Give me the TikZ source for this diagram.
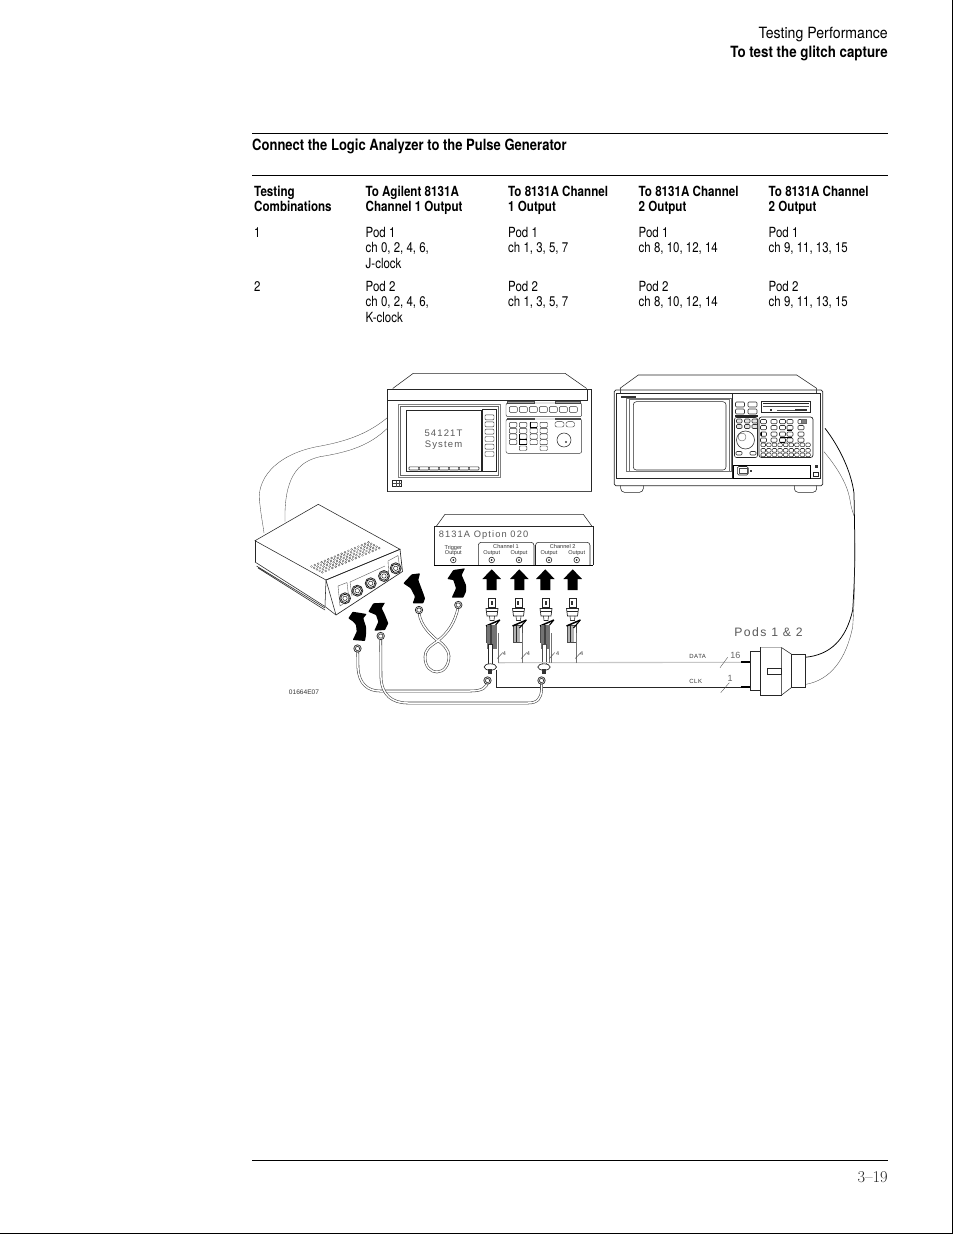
\documentclass[tikz,border=0pt]{standalone}
\usepackage{fontspec}
\newfontfamily\cond[FakeStretch=0.82]{TeX Gyre Heros}
\newfontfamily\condb[FakeStretch=0.83]{TeX Gyre Heros Bold}
\newfontfamily\titlef[FakeStretch=0.84]{TeX Gyre Heros Bold}
\newfontfamily\headb[FakeStretch=0.86]{TeX Gyre Heros Bold}
\newfontfamily\headr[FakeStretch=0.91]{TeX Gyre Heros}
\newfontfamily\lab{Liberation Sans}
\begin{document}
\begin{tikzpicture}[x=1pt,y=-1pt,
  txt/.style={inner sep=0pt,anchor=base west,font=\cond\fontsize{14}{14}\selectfont},
  hd/.style={txt,font=\condb\fontsize{14}{14}\selectfont},
  pen/.style={line width=.55pt,black!85},
  thin pen/.style={line width=.35pt,black!70},
  key/.style={line width=.45pt,black!80,rounded corners=1pt},
  rule/.style={line width=.75pt,black},
  panel/.style={txt,font=\lab\fontsize{5.6}{6}\selectfont,text=black!80,anchor=center},
  big/.style={inner sep=0pt,anchor=center,text=black!65,font=\lab\addfontfeature{LetterSpace=12}\fontsize{10.5}{11}\selectfont},
  small/.style={inner sep=0pt,anchor=center,text=black!80,font=\lab\fontsize{5.5}{6}\selectfont},
  cable/.style={line width=.55pt,black!75,double=white,double distance=1.5pt},
  sig/.style={line width=.7pt,black!85},
  siglight/.style={line width=1.1pt,black!22},
  curved/.style={fill=black,rounded corners=.7pt},
]
\useasboundingbox (0,0) rectangle (954,1235);
\fill[white] (0,0) rectangle (954,1235);
\draw[line width=.9pt,black] (952.8,0) -- (952.8,1233.3) -- (0,1233.3);

% --- page header
\node[txt,anchor=base east,font=\headr\fontsize{15.5}{15}\selectfont] (h1) at (888,38) {Testing Performance};
\node[hd,anchor=base east,font=\headb\fontsize{15.5}{15}\selectfont] (h2) at (888,57) {To test the glitch capture};
\node[hd,font=\titlef\fontsize{15.5}{15}\selectfont] (title) at (252,150) {Connect the Logic Analyzer to the Pulse Generator};
\draw[rule] (252,133.5) -- (888,133.5);
\draw[rule] (252,175) -- (888,175);
\draw[rule] (252,1160) -- (888,1160);
\node[inner sep=0pt,anchor=base east,font=\fontsize{16.5}{16}\selectfont,text=black!85] (pg) at (888,1182) {3--19};

% --- table
\node[hd] (a1) at (254,196) {Testing};
\node[hd] (a2) at (254,211) {Combinations};
\node[hd] (b1) at (365.5,196) {To Agilent 8131A};
\node[hd] (b2) at (365.5,211) {Channel 1 Output};
\node[hd] (c1) at (508,196) {To 8131A Channel};
\node[hd] (c2) at (508,211) {1 Output};
\node[hd] (d1) at (638.5,196) {To 8131A Channel};
\node[hd] (d2) at (638.5,211) {2 Output};
\node[hd] (e1) at (768.5,196) {To 8131A Channel};
\node[hd] (e2) at (768.5,211) {2 Output};

\node[txt] (r1a) at (254,237) {1};
\node[txt] (r1b1) at (365.5,237) {Pod 1};
\node[txt] (r1b2) at (365.5,252) {ch 0, 2, 4, 6,};
\node[txt] (r1b3) at (365.5,268) {J-clock};
\node[txt] (r1c1) at (508,237) {Pod 1};
\node[txt] (r1c2) at (508,252) {ch 1, 3, 5, 7};
\node[txt] (r1d1) at (638.5,237) {Pod 1};
\node[txt] (r1d2) at (638.5,252) {ch 8, 10, 12, 14};
\node[txt] (r1e1) at (768.5,237) {Pod 1};
\node[txt] (r1e2) at (768.5,252) {ch 9, 11, 13, 15};

\node[txt] (r2a) at (254,291) {2};
\node[txt] (r2b1) at (365.5,291) {Pod 2};
\node[txt] (r2b2) at (365.5,306) {ch 0, 2, 4, 6,};
\node[txt] (r2b3) at (365.5,322) {K-clock};
\node[txt] (r2c1) at (508,291) {Pod 2};
\node[txt] (r2c2) at (508,306) {ch 1, 3, 5, 7};
\node[txt] (r2d1) at (638.5,291) {Pod 2};
\node[txt] (r2d2) at (638.5,306) {ch 8, 10, 12, 14};
\node[txt] (r2e1) at (768.5,291) {Pod 2};
\node[txt] (r2e2) at (768.5,306) {ch 9, 11, 13, 15};

% --- 54121T instrument
\draw[pen] (392.7,388.5) -- (413.3,373.3) -- (565,373.3) -- (586.7,388.5);
\draw[pen,line width=.8pt] (387.5,389.5) rectangle (591.7,491.5);
\draw[line width=1pt,black!70] (387.5,491.7) -- (591.7,491.7);
\draw[pen] (387.5,400) -- (587.3,400) -- (587.3,389.5);
\draw[pen,black!50] (398.3,404.3) rectangle (500.7,477.3);
\draw[pen,black!60] (400,406.3) rectangle (498.5,475.5);
\draw[pen,line width=.8pt] (406,410.7) rectangle (481.7,471);
\draw[pen] (482.7,409) rectangle (496,471);
\foreach \y in {417.3,424.3,431.7,439,446.7,454} \draw[key] (485,\y-2.5) rectangle (494,\y+2.5);
\foreach \x in {409,419,429,439,449,459,469} \draw[key,rounded corners=.8pt,line width=.6pt] (\x,466.8) rectangle (\x+10,470);
\node[big,font=\lab\addfontfeature{LetterSpace=12}\fontsize{9.5}{10}\selectfont] (sc1) at (443.5,433.5) {54121T};
\node[big,font=\lab\addfontfeature{LetterSpace=12}\fontsize{9.5}{10}\selectfont] (sc2) at (443.5,445.5) {System};
\draw[pen] (392.7,480.7) rectangle (401.7,486.7);
\draw[thin pen] (395.7,480.7) -- (395.7,486.7) (398.7,480.7) -- (398.7,486.7) (392.7,483.2) -- (401.7,483.2);
\draw[thin pen,fill=black!30] (507.5,401.5) rectangle (534,403);
\draw[thin pen,fill=black!30] (555,401.5) rectangle (580,403);
\draw[key,rounded corners=2pt] (506,403) rectangle (581.7,416.7);
\foreach \i in {0,...,6} \draw[key] (509.3+10*\i,406.7) rectangle (517.3+10*\i,412.3);
\draw[thin pen,fill=black!30] (507.5,418) rectangle (534,419);
\draw[thin pen,fill=black!30] (555,418) rectangle (580,419);
\draw[key,rounded corners=2pt] (506,419) rectangle (581.7,453.3);
\foreach \x in {509.3,519.3,530,540} \foreach \y in {422.3,428.3,434,439.7} \draw[key] (\x,\y) rectangle (\x+7.5,\y+5);
\draw[key] (519.3,446) rectangle (526.8,450.5) (540,446) rectangle (547.5,450.5);
\draw[line width=.9pt,black] (530,422.3) -- (530,427.3) -- (537,427.3);
\draw[line width=.9pt,black] (519.3,434) -- (519.3,439) -- (527,439);
\draw[line width=.9pt,black] (519.3,439.7) -- (519.3,444.7) -- (527,444.7);
\draw[key,rounded corners=2pt] (555,421.7) rectangle (564,427);
\draw[key,rounded corners=2pt] (566,421.7) rectangle (574.5,427);
\draw[pen] (564,440) circle (7);
\fill[black!75] (566,442) circle (1.2);
% cable to divider box
\draw[thin pen] (387.3,417.7) .. controls (370,432) and (350,441) .. (316.7,446.7) .. controls (275,455) and (255,480) .. (260,505) .. controls (261,515) and (263,525) .. (264,533);
\draw[thin pen] (387.3,428.3) .. controls (370,445) and (350,452) .. (320,456.7) .. controls (296,462) and (284,480) .. (285,521.7);

% --- logic analyzer
\draw[pen] (620,388.3) -- (638.3,375) -- (796.7,375) -- (816.7,388.3);
\draw[pen,line width=.7pt,rounded corners=1.5pt] (614.3,390) rectangle (822.7,485.7);
\draw[pen] (616,393.3) -- (820,393.3) -- (820,478.3) -- (616,478.3) -- cycle;
\draw[thin pen] (816.5,388.3) -- (816.5,393.3) (620,388.3) -- (620,393.3);
\draw[pen,black!55] (626.7,398.3) rectangle (731.7,471.7);
\draw[pen,black!55] (629,399.5) rectangle (729,470.8);
\draw[pen,rounded corners=3pt] (633.3,401.7) rectangle (726,470);
\draw[pen,line width=.6pt] (732.7,393.3) -- (732.7,478.3);
\fill[black!80] (620.7,395.7) rectangle (636,398.3);
\draw[pen,rounded corners=1.5pt] (620.7,485.7) -- (620.7,490) -- (623,492.3) -- (641,492.3) -- (643.3,490) -- (643.3,485.7);
\draw[pen,rounded corners=1.5pt] (794.3,485.7) -- (794.3,490) -- (796.5,492.3) -- (814.5,492.3) -- (816.7,490) -- (816.7,485.7);
% floppy
\draw[pen] (761.5,401.5) rectangle (810,412);
\draw[line width=1pt,black!85] (763,403.5) -- (808.5,403.5);
\draw[thin pen] (763,406.5) -- (808.5,406.5);
\fill[black!80] (770,408.5) rectangle (772,410.5);
\draw[thin pen] (777,410.5) -- (795,410.5);
\fill[black!80] (795,408.7) rectangle (807,410.7);
% soft keys left
\foreach \x in {735.5,748} \foreach \y in {402,409} {\draw[key,line width=.55pt] (\x,\y) rectangle (\x+9,\y+5);}
\fill[black!85] (735,414.5) rectangle (758,417);
\draw[pen,rounded corners=2pt] (734.5,417.5) rectangle (757.5,457.5);
\foreach \x in {736.5,744.5,752} \foreach \y in {419,424.5} {\draw[key,line width=.6pt,fill=black!10] (\x,\y) rectangle (\x+5.5,\y+4);}
\draw[pen] (745.5,440) circle (9);
\draw[thin pen] (742,437) circle (4);
\draw[key,line width=.6pt] (736,451.5) rectangle (742,455);
\draw[key,line width=.6pt] (750,451.5) rectangle (756,455);
% main keypad
\draw[pen,rounded corners=2.5pt,line width=.7pt] (759,417) rectangle (813,457.5);
\foreach \x in {760.5,771,779.5,787,798} {\foreach \y in {419.5,425.5,432,438} {\draw[key,line width=.6pt] (\x,\y) rectangle (\x+6,\y+4.2);}}
\foreach \i in {0,...,8} \foreach \y in {443,448.5,453} {\draw[key,line width=.55pt] (761+5.6*\i,\y) rectangle (765.5+5.6*\i,\y+3.7);}
\draw[line width=1pt,black] (761,432) -- (761,436) (780,437) -- (792,437) (780,442) -- (785,442) (787,430) -- (792,430);
\draw[line width=1pt,black!60,fill=black!50] (801,419.5) rectangle (806,423);
% drive bay
\draw[line width=.8pt,black] (733.3,465) rectangle (810.7,478.3);
\draw[pen,rounded corners=1.5pt] (737.3,466.5) rectangle (748.3,475);
\draw[thin pen] (739,468) rectangle (746.7,473.5);
\fill[black!75] (749.5,470) rectangle (752,472);
\fill[black!80] (814.5,464.5) rectangle (817.5,467.5);
\draw[pen] (813.5,472) rectangle (818,476.5);
% analyzer cables
\draw[line width=.75pt,black] (825,428.3) .. controls (838,445) and (851,470) .. (854,493.3) -- (854.8,540) .. controls (855,570) and (854,590) .. (852.7,610) .. controls (846,640) and (830,655) .. (805,657.3);
\draw[thin pen] (824,451.7) .. controls (835,465) and (847,482) .. (850,500) .. controls (851.5,510) and (853,512) .. (854,516);
\draw[thin pen] (854.8,540) .. controls (855,570) and (854.5,600) .. (852.7,626.7) .. controls (846,660) and (830,680) .. (806,684.3);

% --- divider box
\draw[pen] (255,540.7) -- (318.3,504.3) -- (400,549.3) -- (326,580) -- cycle;
\draw[pen] (255,540.7) -- (255,562);
\draw[pen] (255,562) -- (325,606.5) ;
\draw[pen] (256.5,566) -- (325,608) (258,568) -- (325,610);
\draw[pen] (326,580) -- (336,615) (326,580) -- (325,606);
\draw[pen,line width=.65pt] (326,580) -- (400,549.3) -- (402.5,571.5) -- (336,615) ;
\draw[pen] (325,606.5) -- (336,615);
\draw[thin pen] (338,586) -- (347,582.5) -- (349,600) -- (340,606) -- cycle;
\draw[thin pen] (350,582) -- (385,566) (350,582) -- (352,596);
\draw[thin pen] (388,561) -- (398,555.5) -- (400,570) (388,561) -- (389,577);
\foreach \i in {0,...,17} \foreach \j in {0,...,4} {
  \draw[line width=.3pt,black!70] (311.5+3.35*\i+2.7*\j,566.5-1.42*\i+1.45*\j) circle (1);
}
\foreach \x/\y in {345/598.3,357.3/590.7,370.7/583.3,384/576,395.7/568.3} {
  \draw[pen,fill=white,line width=.8pt] (\x,\y) circle (5.5);
  \draw[black,line width=1pt,dash pattern=on .8pt off .6pt] (\x,\y) circle (4.2);
  \draw[pen,line width=.5pt] (\x,\y) circle (2.2);
}

% --- pulse generator
\draw[pen] (436,526.7) -- (445,514.3) -- (583.3,514.3) -- (592.3,526.7);
\draw[pen,line width=.7pt] (434,526.7) -- (593.3,526.7) -- (593.3,565);
\draw[pen,line width=.7pt] (434,526.7) -- (434,565);
\draw[line width=1pt,black] (434,565) -- (593.3,565);
\node[big,font=\lab\addfontfeature{LetterSpace=12}\fontsize{9.3}{10}\selectfont] (opt) at (483.5,535) {8131A Option 020};
\node[panel] (trg1) at (453.3,547.7) {Trigger};
\node[panel] (trg2) at (453.3,553.3) {Output};
\draw[pen,rounded corners=3pt] (478.3,565) -- (478.3,542.3) -- (534,542.3) -- (534,565);
\draw[pen,rounded corners=3pt] (535.5,565) -- (535.5,542.3) -- (590,542.3) -- (590,565);
\node[panel] (ch1) at (506,546.3) {Channel 1};
\node[panel] (ch2) at (562.7,546.3) {Channel 2};
\foreach \x/\n in {491.7/p,519/q,549/r,576.7/s} {
  \node[panel] (out\n) at (\x,553.3) {Output};
}
\foreach \x in {453.3,491.7,519,549,576.7} {
  \draw[pen,line width=.6pt] (\x,560) circle (2.8);
  \fill[black!85] (\x,560) circle (1);
}

% --- straight arrows
\foreach \x in {491.7,519.3,545.3,572.7} {
  \fill[black] (\x,569.3) -- (\x+9.3,579) -- (\x+5,579) -- (\x+5,590) -- (\x-5,590) -- (\x-5,579) -- (\x-9.3,579) -- cycle;
}
% --- curved arrows
\path[curved] (447.3,579) -- (453.3,570) -- (465,568.3) -- (461.7,575) -- (466,585) -- (466,591.7) -- (463.3,597.7) -- (451.7,597.7) -- (456,588.3) -- (453.3,580) -- cycle;
\path[curved] (403.3,583.3) -- (411.7,574.3) -- (420,573.3) -- (418.3,580) -- (423.3,593.3) -- (425,598.3) -- (423.3,603.3) -- (412.7,603.3) -- (415,596.7) -- (410.7,588.3) -- cycle;
\path[curved] (368.3,611.7) -- (373.3,603.3) -- (385,602.7) -- (381.7,608.3) -- (385,615) -- (388.3,623.3) -- (385,630) -- (374.3,630.7) -- (378.3,621.7) -- (376,615) -- cycle;
\path[curved] (348.3,618.3) -- (352.7,611.7) -- (366.7,614) -- (363.3,618.3) -- (366,626.7) -- (366,635) -- (365,641) -- (352.7,640) -- (356.7,631.7) -- (356,625) -- (353.3,621.7) -- cycle;

% --- BNC probes
\foreach \x in {492,518.5,546,572.5} {
  \draw[pen,fill=white] (\x-3.5,598.5) rectangle (\x+3.5,607);
  \fill[black!80] (\x-1.3,601) rectangle (\x+.7,605);
  \draw[pen,fill=white,line width=.7pt] (\x-6,608.5) -- (\x+6,608.5) -- (\x+5,616) -- (\x-5,616) -- cycle;
  \draw[pen] (\x-5.5,611) -- (\x+5.5,611);
  \draw[pen] (\x-2.5,616) -- (\x-2,620.5) -- (\x+2,620.5) -- (\x+2.5,616);
  \fill[black!30] (\x-5.5,625) rectangle (\x+1,642);
  \draw[thin pen] (\x-5.5,625) rectangle (\x+3.5,642);
  \draw[line width=1pt,black!85] (\x-2,625) -- (\x-2,642);
  \draw[line width=1.5pt,black] (\x-6,626) -- (\x+8,620);
  \draw[line width=1.1pt,black] (\x+1,628) -- (\x+7,621);
}
\fill[black!55] (486.5,625) rectangle (496.5,649);
\fill[black!75] (489.5,625) rectangle (491.5,649);
\fill[black!55] (540.5,625) rectangle (550,649);
\fill[black!75] (543.5,625) rectangle (545.5,649);
\draw[line width=.6pt,black!85,fill=white] (488.3,644) rectangle (492.3,664);
\draw[line width=.6pt,black!70,fill=white] (542,644) rectangle (546,664);
\foreach \x in {490.3,544} {
  \draw[pen,fill=white,line width=.7pt] (\x,667) ellipse (6.2 and 3.2);
  \fill[black!80] (\x-2,669) rectangle (\x+2,673.5);
}

% --- wiring
\coordinate (ld) at (750.7,662.3);
\coordinate (lc) at (750.7,687.3);
\draw[siglight] (498.3,662.7) -- (ld);
\foreach \x in {498.3,522.3,549.3,551.7,576.7} \draw[line width=.5pt,black!55] (\x,633) -- (\x,662.7);
\draw[sig] (496,670) -- (496,687.3) -- (lc);
\draw[line width=2pt,black] (740.5,662.3) -- (ld);
\draw[line width=2pt,black] (740.5,687.3) -- (lc);
\foreach \x/\n in {497.3/a,521.3/b,549.3/c,575.3/d} {
  \draw[thin pen,line width=.45pt] (\x,658.5) -- (\x+5.5,652.5);
}
\node[small] (n1) at (504.5,653.5) {4};
\node[small] (n2) at (528.3,653.5) {4};
\node[small] (n3) at (557.7,653.5) {4};
\node[small] (n4) at (581.7,653.5) {4};

% --- cables
\draw[cable] (357.7,651.5) -- (358,668) .. controls (359,684) and (368,691) .. (380,691) -- (470,691) .. controls (482,691) and (487,688) .. (488,680.5);
\draw[cable] (380.7,639.5) -- (381,678) .. controls (382,695) and (392,703) .. (408,703) -- (528,703) .. controls (538,703) and (541,698) .. (541.5,690) -- (541.5,684);
\draw[cable] (419,613) .. controls (421,626) and (430,634) .. (438,641) .. controls (428,647) and (425,651) .. (425,657) .. controls (425,667) and (431,672) .. (437,672) .. controls (444,672) and (449,665) .. (449,656) .. controls (449,650) and (443,644) .. (438,640.5) .. controls (448,633) and (455,622) .. (458,608);
% cable ends
\foreach \x/\y in {357.5/648.5,380.7/636,419/610,458.3/605,487.5/680.5,541.5/680.5} {
  \draw[pen,fill=white,line width=.7pt] (\x,\y) circle (3.7);
  \draw[black!85,line width=.8pt,dash pattern=on .8pt off .5pt] (\x,\y) circle (2.2);
}
\node[small,font=\lab\fontsize{6.6}{7}\selectfont] (fig) at (304,692.5) {01664E07};

% --- pod connector
\draw[pen,fill=white] (750.7,651) rectangle (760.7,690);
\draw[pen,fill=white] (760.7,647.7) rectangle (781.7,695);
\draw[line width=.8pt,black!30] (760.7,647.7) -- (781.7,647.7) -- (781.7,695);
\draw[pen,fill=white] (781.7,647.7) -- (791.7,654.3) -- (791.7,687.3) -- (781.7,695) -- cycle;
\draw[pen,fill=white] (791.7,654.3) rectangle (805,687.3);
\draw[pen] (767.3,668.3) rectangle (781,674);
\draw[thin pen] (720,667.7) -- (727.7,657.3);
\draw[thin pen] (720.7,692.7) -- (729.3,682.7);
\node[big,font=\lab\addfontfeature{LetterSpace=12}\fontsize{12.2}{13}\selectfont] (pods) at (768.5,632.3) {Pods 1 \& 2};
\node[small,font=\lab\addfontfeature{LetterSpace=8}\fontsize{6}{7}\selectfont] (data) at (697.7,656) {DATA};
\node[small,font=\lab\addfontfeature{LetterSpace=8}\fontsize{6}{7}\selectfont] (clk) at (695.7,681) {CLK};
\node[small,font=\lab\fontsize{9}{10}\selectfont,text=black!60] (l16) at (735.3,655) {16};
\node[small,font=\lab\fontsize{9}{10}\selectfont,text=black!60] (l1) at (730,678.3) {1};
\end{tikzpicture}
\end{document}
